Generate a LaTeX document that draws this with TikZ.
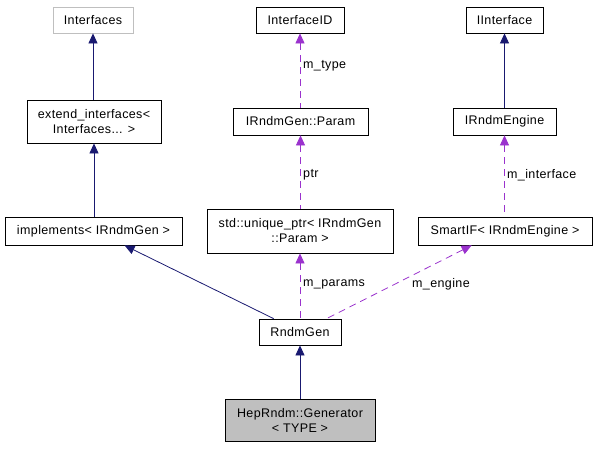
\documentclass[tikz,border=0pt]{standalone}
\usepackage{fontspec}
\setmainfont{Liberation Sans}[LetterSpace=3]
\usetikzlibrary{arrows.meta,calc}
\definecolor{inhcol}{HTML}{191970}
\definecolor{usecol}{HTML}{9A32CD}
\definecolor{graybox}{HTML}{BFBFBF}
\begin{document}
\begin{tikzpicture}[x=1pt,y=-1pt,
  every node/.style={font=\fontsize{12.5}{15}\selectfont, inner sep=0pt},
  cls/.style={draw=black, line width=0.8pt, fill=white, align=center},
  inh/.style={draw=inhcol, line width=0.8pt, {Triangle[length=10pt,width=9pt,fill=inhcol]}-},
  usg/.style={draw=usecol, line width=0.8pt, dash pattern=on 7pt off 5pt, {Triangle[length=10pt,width=9pt,fill=usecol]}-},
  lbl/.style={anchor=west, text=black}]
\useasboundingbox (0,0) rectangle (596,448);
% nodes
\node[cls, draw=graybox, minimum width=80pt, minimum height=26pt] (ifs) at (93,20) {Interfaces};
\node[cls, minimum width=134pt, minimum height=43pt] (ext) at (94,121.5) {extend\_interfaces\textless\\Interfaces... \textgreater};
\node[cls, minimum width=177pt, minimum height=28pt] (impl) at (93.5,231) {implements\textless{} IRndmGen \textgreater};
\node[cls, minimum width=88pt, minimum height=26pt] (iid) at (300,20) {InterfaceID};
\node[cls, minimum width=135pt, minimum height=27pt] (par) at (300.5,121.5) {IRndmGen::Param};
\node[cls, minimum width=186pt, minimum height=44pt] (uptr) at (300,231) {std::unique\_ptr\textless{} IRndmGen\\::Param \textgreater};
\node[cls, minimum width=77pt, minimum height=26pt] (iif) at (504.5,20) {IInterface};
\node[cls, minimum width=103pt, minimum height=27pt] (eng) at (504.5,121.5) {IRndmEngine};
\node[cls, minimum width=174pt, minimum height=28pt] (sif) at (505,231) {SmartIF\textless{} IRndmEngine \textgreater};
\node[cls, minimum width=82pt, minimum height=26pt] (rg) at (300,332) {RndmGen};
\node[cls, fill=graybox, minimum width=150pt, minimum height=42pt] (hep) at (300,420) {HepRndm::Generator\\\textless{} TYPE \textgreater};
% inheritance
\draw[inh] (ifs.south) -- (ifs.south |- ext.north);
\draw[inh] (ext.south) -- (ext.south |- impl.north);
\draw[inh] (iif.south) -- (iif.south |- eng.north);
\draw[inh] (rg.south) -- (rg.south |- hep.north);
\draw[inh] ($(impl.south west)+(120,0)$) -- ($(rg.north west)+(15,0)$);
% usage
\draw[usg] (iid.south) -- (iid.south |- par.north);
\draw[usg] (par.south) -- (par.south |- uptr.north);
\draw[usg] (uptr.south) -- (uptr.south |- rg.north);
\draw[usg] (eng.south) -- (eng.south |- sif.north);
\draw[usg] ($(sif.south west)+(54,0)$) -- ($(rg.north west)+(68,0)$);
% labels
\node[lbl] (l1) at (303,66) {m\_type};
\node[lbl] (l2) at (303,175) {ptr};
\node[lbl] (l3) at (507,175) {m\_interface};
\node[lbl] (l4) at (303,284) {m\_params};
\node[lbl] (l5) at (412,284) {m\_engine};
\end{tikzpicture}
\end{document}
